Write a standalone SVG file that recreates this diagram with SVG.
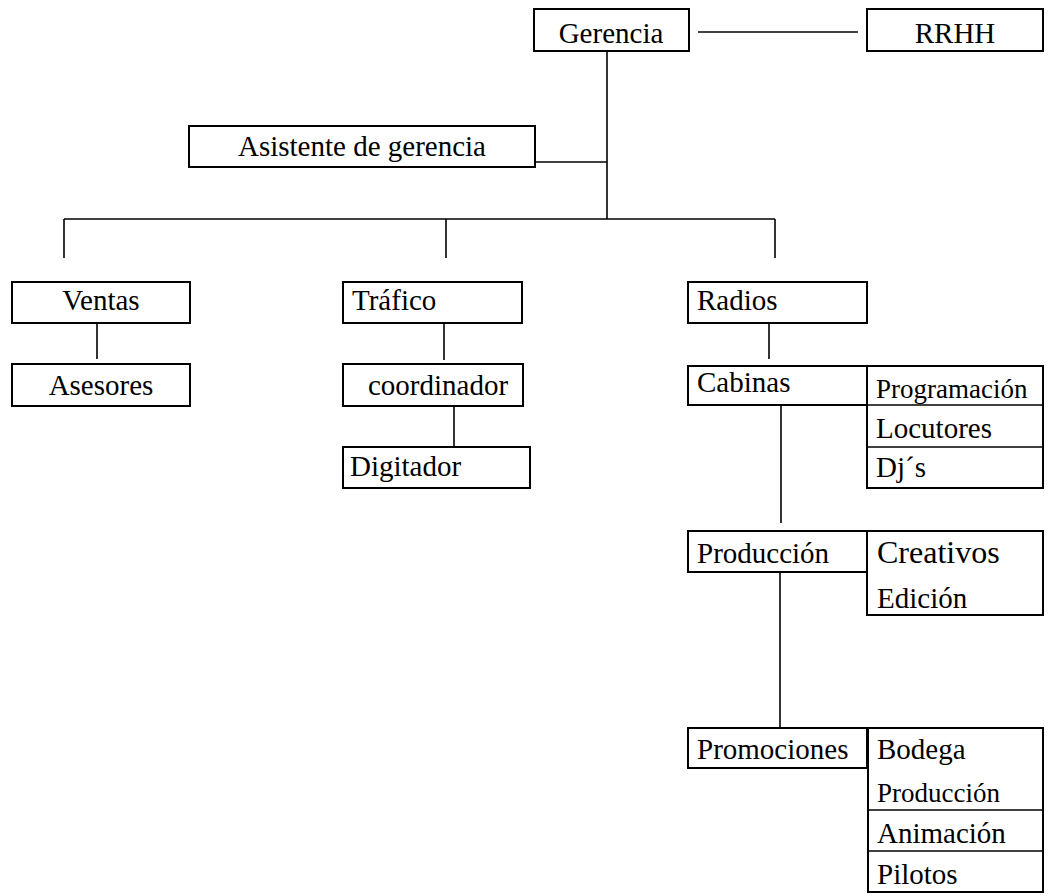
<svg xmlns="http://www.w3.org/2000/svg" width="1050" height="896" viewBox="0 0 1050 896">
<style>
  .box { fill: #ffffff; stroke: #000000; stroke-width: 2; }
  .ln { stroke: #000000; stroke-width: 1.6; fill: none; }
  text { font-family: 'Liberation Serif', 'DejaVu Serif', serif; font-size: 29px; fill: #000000; }
  .c { text-anchor: middle; }
  .sm { font-size: 27px; }
  .lg { font-size: 32px; }
</style>
<rect width="1050" height="896" fill="#ffffff"/>
<g id="connectors">
  <line class="ln" x1="698" y1="32" x2="858" y2="32"/>
  <line class="ln" x1="607" y1="47" x2="607" y2="219"/>
  <line class="ln" x1="535" y1="162" x2="607" y2="162"/>
  <line class="ln" x1="64" y1="219" x2="775" y2="219"/>
  <line class="ln" x1="64" y1="219" x2="64" y2="258"/>
  <line class="ln" x1="446" y1="219" x2="446" y2="258"/>
  <line class="ln" x1="775" y1="219" x2="775" y2="258"/>
  <line class="ln" x1="97" y1="319" x2="97" y2="359"/>
  <line class="ln" x1="444" y1="320" x2="444" y2="360"/>
  <line class="ln" x1="454" y1="406" x2="454" y2="447"/>
  <line class="ln" x1="769" y1="320" x2="769" y2="359"/>
  <line class="ln" x1="781" y1="396" x2="781" y2="523"/>
  <line class="ln" x1="780" y1="565" x2="780" y2="729"/>
</g>
<g id="gerencia">
  <rect class="box" x="534" y="9" width="155" height="42"/>
  <text class="c" x="611" y="43" font-family="Liberation Serif, serif">Gerencia</text>
</g>
<g id="rrhh">
  <rect class="box" x="867" y="9" width="176" height="42"/>
  <text class="c" x="955" y="43">RRHH</text>
</g>
<g id="asistente">
  <rect class="box" x="189" y="126" width="346" height="41"/>
  <text class="c" x="362" y="156">Asistente de gerencia</text>
</g>
<g id="ventas">
  <rect class="box" x="12" y="282" width="178" height="41"/>
  <text class="c" x="101" y="310">Ventas</text>
</g>
<g id="asesores">
  <rect class="box" x="12" y="364" width="178" height="42"/>
  <text class="c" x="101" y="395">Asesores</text>
</g>
<g id="trafico">
  <rect class="box" x="343" y="282" width="179" height="41"/>
  <text x="352" y="310">Tráfico</text>
</g>
<g id="coordinador">
  <rect class="box" x="343" y="364" width="180" height="42"/>
  <text class="c" x="438" y="395">coordinador</text>
</g>
<g id="digitador">
  <rect class="box" x="343" y="447" width="187" height="41"/>
  <text x="350" y="476">Digitador</text>
</g>
<g id="radios">
  <rect class="box" x="688" y="282" width="179" height="41"/>
  <text x="697" y="310">Radios</text>
</g>
<g id="cabinas">
  <rect class="box" x="688" y="366" width="179" height="39"/>
  <text x="697" y="392">Cabinas</text>
</g>
<g id="cabinas-lista">
  <rect class="box" x="867" y="366" width="176" height="122"/>
  <line class="ln" x1="867" y1="405" x2="1043" y2="405"/>
  <line class="ln" x1="867" y1="447" x2="1043" y2="447"/>
  <text class="sm" x="876" y="398">Programación</text>
  <text x="876" y="438">Locutores</text>
  <text x="876" y="477">Dj´s</text>
</g>
<g id="produccion">
  <rect class="box" x="688" y="531" width="179" height="41"/>
  <text x="697" y="563">Producción</text>
</g>
<g id="produccion-lista">
  <rect class="box" x="867" y="531" width="176" height="84"/>
  <text class="lg" x="877" y="563">Creativos</text>
  <text x="877" y="608">Edición</text>
</g>
<g id="promociones">
  <rect class="box" x="688" y="728" width="179" height="40"/>
  <text x="697" y="759">Promociones</text>
</g>
<g id="promociones-lista">
  <rect class="box" x="868" y="728" width="175" height="164"/>
  <line class="ln" x1="868" y1="810" x2="1043" y2="810"/>
  <line class="ln" x1="868" y1="851" x2="1043" y2="851"/>
  <text x="877" y="759">Bodega</text>
  <text class="sm" x="877" y="802">Producción</text>
  <text x="877" y="843">Animación</text>
  <text x="877" y="884">Pilotos</text>
</g>
</svg>
